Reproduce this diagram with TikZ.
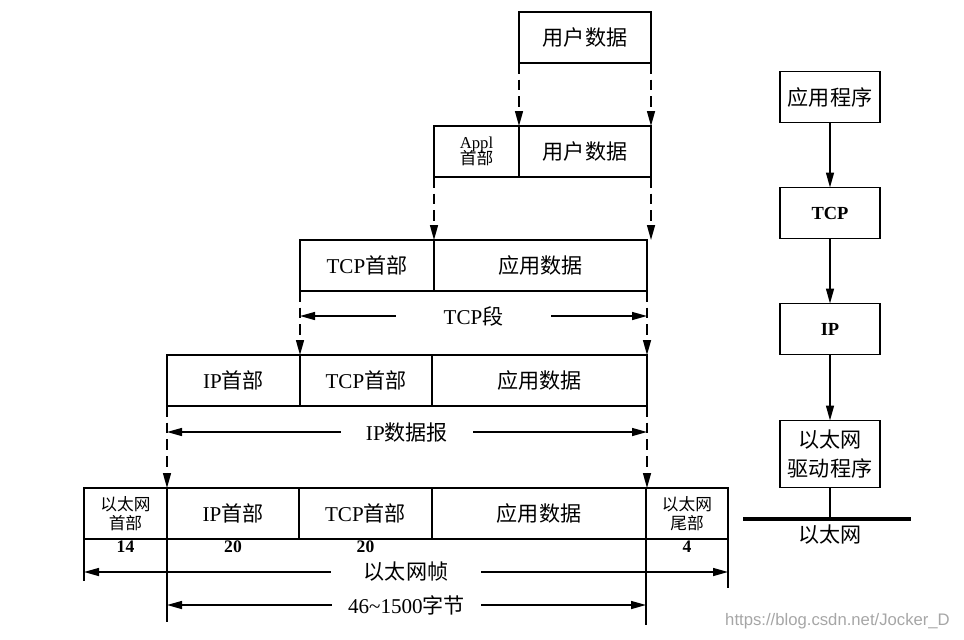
\documentclass[tikz,border=0pt]{standalone}
\usepackage{fontspec}
\setmainfont{Liberation Serif}
\newfontfamily\cjk{Noto Sans CJK SC}
\newfontfamily\wmfont{Liberation Sans}
\usetikzlibrary{positioning,arrows.meta}
\newcommand{\zh}[1]{{\cjk #1}}

\begin{document}
\begin{tikzpicture}[
    box/.style={draw, line width=0.8pt, inner sep=0pt, outer sep=0pt, minimum height=1.02cm,
      align=center, font=\fontsize{12}{14}\selectfont},
    small/.style={font=\fontsize{9.5}{11}\selectfont},
    layer/.style={box, minimum width=2cm},
    dasharrow/.style={line width=0.8pt, dash pattern=on 6pt off 3.5pt, -{Triangle[length=3mm,width=1.6mm]}},
    dimarrow/.style={line width=0.8pt, -{Triangle[length=3mm,width=1.6mm]}},
    dimlbl/.style={inner ysep=0pt, font=\fontsize{12}{14}\selectfont},
    num/.style={inner sep=1pt, font=\fontsize{10}{12}\selectfont\bfseries},
  ]
  \useasboundingbox (0,0) rectangle (19.28,-12.78);

  % encapsulation, top to bottom
  \node[box, minimum width=2.64cm, anchor=north west] (ud1) at (10.38,-0.24) {\zh{用户数据}};

  \node[box, small, minimum width=1.70cm, anchor=north west] (appl) at (8.68,-2.52) {Appl\\[-2pt]\zh{首部}};
  \node[box, minimum width=2.64cm, right=0pt of appl] (ud2) {\zh{用户数据}};

  \node[box, minimum width=2.68cm, anchor=north west] (tcp3) at (6.0,-4.8) {TCP\zh{首部}};
  \node[box, minimum width=4.26cm, right=0pt of tcp3] (app3) {\zh{应用数据}};

  \node[box, minimum width=2.66cm, anchor=north west] (ip4) at (3.34,-7.1) {IP\zh{首部}};
  \node[box, minimum width=2.64cm, right=0pt of ip4] (tcp4) {TCP\zh{首部}};
  \node[box, minimum width=4.30cm, right=0pt of tcp4] (app4) {\zh{应用数据}};

  \node[box, small, minimum width=1.66cm, anchor=north west] (eh) at (1.68,-9.76) {\zh{以太网}\\\zh{首部}};
  \node[box, minimum width=2.64cm, right=0pt of eh] (ip5) {IP\zh{首部}};
  \node[box, minimum width=2.66cm, right=0pt of ip5] (tcp5) {TCP\zh{首部}};
  \node[box, minimum width=4.28cm, right=0pt of tcp5] (app5) {\zh{应用数据}};
  \node[box, small, minimum width=1.64cm, right=0pt of app5] (et) {\zh{以太网}\\\zh{尾部}};

  \foreach \a/\b in {ud1.south west/ud2, ud1.south east/ud2, appl.south west/app3,
      ud2.south east/app3, tcp3.south west/tcp4, app3.south east/app4,
      ip4.south west/ip5, app4.south east/app5}
    \draw[dasharrow] (\a) -- (\a |- \b.north);

  % sizes
  \node[num, below=0pt of eh] {14};
  \node[num, below=0pt of ip5] {20};
  \node[num, below=0pt of tcp5] {20};
  \node[num, below=0pt of et] {4};

  % TCP segment and IP datagram
  \node[dimlbl, inner xsep=0.95cm] (tcpseg) at (9.47,-6.32) {TCP\zh{段}};
  \coordinate (tsL) at (6.0,-6.32);
  \coordinate (tsR) at (12.94,-6.32);
  \draw[dimarrow] (tcpseg) -- (tsL);
  \draw[dimarrow] (tcpseg) -- (tsR);

  \node[dimlbl, inner xsep=0.5cm] (ipdg) at (8.14,-8.64) {IP\zh{数据报}};
  \coordinate (idL) at (3.34,-8.64);
  \coordinate (idR) at (12.94,-8.64);
  \draw[dimarrow] (ipdg) -- (idL);
  \draw[dimarrow] (ipdg) -- (idR);

  % frame and payload
  \draw[line width=0.8pt] (eh.south west) -- ++(0,-0.84);
  \draw[line width=0.8pt] (et.south east) -- ++(0,-0.98);
  \draw[line width=0.8pt] (ip5.south west) -- ++(0,-1.66);
  \draw[line width=0.8pt] (app5.south east) -- ++(0,-1.72);

  \node[dimlbl, inner xsep=0.65cm] (frame) at (8.12,-11.44) {\zh{以太网帧}};
  \coordinate (frL) at (1.68,-11.44);
  \coordinate (frR) at (14.56,-11.44);
  \draw[dimarrow] (frame) -- (frL);
  \draw[dimarrow] (frame) -- (frR);

  \node[dimlbl, inner xsep=0.32cm] (payload) at (8.13,-12.1) {46\textasciitilde 1500\zh{字节}};
  \coordinate (plL) at (3.34,-12.1);
  \coordinate (plR) at (12.92,-12.1);
  \draw[dimarrow] (payload) -- (plL);
  \draw[dimarrow] (payload) -- (plR);

  % protocol stack
  \node[layer] (app) at (16.6,-1.94) {\zh{应用程序}};
  \node[layer, below=1.3cm of app, font=\fontsize{10.5}{12}\selectfont\bfseries] (tcp) {TCP};
  \node[layer, below=1.3cm of tcp, font=\fontsize{10.5}{12}\selectfont\bfseries] (ip) {IP};
  \node[layer, below=1.32cm of ip, minimum height=1.34cm, font=\fontsize{12}{16}\selectfont] (drv) {\zh{以太网}\\\zh{驱动程序}};
  \draw[dimarrow] (app) -- (tcp);
  \draw[dimarrow] (tcp) -- (ip);
  \draw[dimarrow] (ip) -- (drv);

  \coordinate (eL) at (14.86,-10.38);
  \coordinate (eR) at (18.22,-10.38);
  \draw[line width=2.2pt] (eL) -- (eR);
  \draw[line width=0.8pt] (drv.south) -- (drv.south |- eL);
  \node[dimlbl, below=3pt of drv.south |- eL] (eth) {\zh{以太网}};

  \node[anchor=east, text=black!35, font=\wmfont\fontsize{9.5}{11}\selectfont] (wm) at (19.12,-12.42) {https://blog.csdn.net/Jocker\_D};
\end{tikzpicture}
\end{document}
